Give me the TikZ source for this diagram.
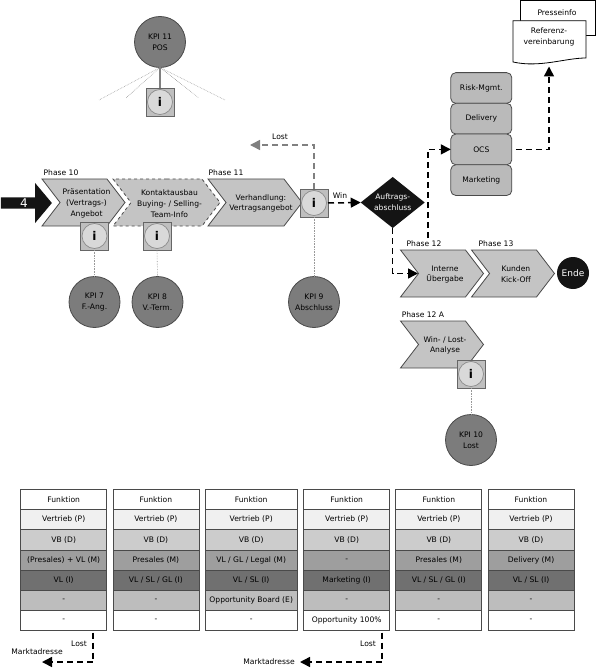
\documentclass[tikz,border=0pt]{standalone}
\usepackage{fontspec}
\setmainfont{DejaVu Sans}
\usetikzlibrary{arrows.meta,shapes.geometric,shapes.symbols,shapes.arrows}
\definecolor{chevgray}{HTML}{C4C4C4}
\definecolor{kpigray}{HTML}{7C7C7C}
\definecolor{linegray}{HTML}{4A4A4A}
\definecolor{blackish}{HTML}{141414}
\tikzset{
	every node/.style={font=\fontsize{7.6}{10.8}\selectfont,align=center,inner sep=0pt,outer sep=0pt},
	chev/.style={signal,signal from=west,signal to=east,signal pointer angle=105,draw=linegray,fill=chevgray,line width=0.8pt,minimum width=83pt,minimum height=47pt},
	ctext/.style={xshift=3pt,yshift=-1pt},
	kpi/.style={circle,draw=linegray,fill=kpigray,line width=0.8pt,minimum size=51pt},
	infobox/.style={rectangle,draw=black!60,fill=black!25,line width=0.8pt,minimum size=28pt},
	infocirc/.style={circle,draw=black!45,fill=black!15,line width=0.7pt,minimum size=25pt,font=\fontsize{12}{12}\bfseries\selectfont},
	stackbox/.style={rectangle,rounded corners=5pt,draw=linegray,fill=chevgray!95!black,line width=0.8pt,minimum width=61pt,minimum height=30.7pt},
	dasharrow/.style={line width=1.5pt,dash pattern=on 6pt off 4pt,-{Triangle[length=10pt,width=10pt]}},
	dotline/.style={gray!80,densely dotted,line width=0.6pt},
	cell/.style={rectangle,draw=linegray,line width=0.8pt,minimum height=20.2pt},
	rowa/.style={fill=white},
	rowb/.style={fill=black!6},
	rowc/.style={fill=black!20},
	rowd/.style={fill=black!38},
	rowe/.style={fill=black!56},
	rowf/.style={fill=black!26},
	rowg/.style={fill=white}
}
% info symbol: box with circle
\newcommand{\infonode}[2]{
	\node[infobox] (#1) at (#2) {};
	\node[infocirc] (#1c) at (#1) {i};
}
\begin{document}
\begin{tikzpicture}[x=1pt,y=-1pt]
	\useasboundingbox (0,0) rectangle (595,668);

	% documents
	\draw[line width=0.8pt,fill=white] (520,0) rectangle (595,35);
	\node (press) at (557,13) {Presseinfo};
	\draw[line width=0.8pt,fill=white] (513,20.7) -- (586,20.7) -- (586,58) .. controls (565,58) and (540,68) .. (513,62) -- cycle;
	\node (refer) at (549,37) {Referenz-\\vereinbarung};

	% stack
	\node[stackbox] (risk) at (481.3,88) {Risk-Mgmt.};
	\node[stackbox] (deliv) at (481.3,118.7) {Delivery};
	\node[stackbox] (ocs) at (481.3,149.4) {OCS};
	\node[stackbox] (mark) at (481.3,180.1) {Marketing};

	% phases
	\node (ph10) at (61,173) {Phase 10};
	\node (ph11) at (226,173) {Phase 11};
	\node (ph12) at (424,244) {Phase 12};
	\node (ph13) at (496,244) {Phase 13};
	\node (ph12a) at (423,315) {Phase 12 A};

	\node[chev,label={[ctext]center:{Präsentation\\(Vertrags-)\\Angebot}}] (praes) at (83.5,202.5) {};
	\node[chev,dashed,minimum width=107pt,label={[ctext]center:{Kontaktausbau\\Buying- / Selling-\\Team-Info}}] (kont) at (166.5,202.5) {};
	\node[chev,minimum width=94pt,label={[ctext,xshift=3pt]center:{Verhandlung:\\Vertragsangebot}}] (verh) at (255,202.5) {};
	\node[chev,label={[ctext]center:{Interne\\Übergabe}}] (intern) at (442,273.5) {};
	\node[chev,label={[ctext]center:{Kunden\\Kick-Off}}] (kunden) at (513,273.5) {};
	\node[chev,label={[ctext]center:{Win- / Lost-\\Analyse}}] (winlost) at (442,344.5) {};

	% start and end
	\node[single arrow,single arrow head indent=0pt,single arrow tip angle=100,single arrow head extend=11.5pt,minimum width=40pt,minimum height=51pt,fill=blackish,text=white,font=\fontsize{12}{12}\selectfont] (start) at (24,203) {4};
	\node[diamond,aspect=1.25,fill=blackish,text=white,minimum width=64pt,minimum height=51pt] (auftrag) at (392.7,202.5) {Auftrags-\\abschluss};
	\node[circle,fill=blackish,text=white,minimum size=32pt,font=\fontsize{9}{10}\selectfont] (ende) at (573,273) {Ende};

	% kpi circles
	\node[kpi] (kpi11) at (160,42) {KPI 11\\POS};
	\node[kpi] (kpi7) at (94.5,302) {KPI 7\\F.-Ang.};
	\node[kpi] (kpi8) at (157.5,302) {KPI 8\\V.-Term.};
	\node[kpi] (kpi9) at (314,302) {KPI 9\\Abschluss};
	\node[kpi] (kpi10) at (471,440) {KPI 10\\Lost};

	% dotted links
	\coordinate (fan1) at (99,100);
	\coordinate (fan2) at (126,98);
	\coordinate (fan3) at (199,98);
	\coordinate (fan4) at (225,100);
	\foreach \f in {fan1,fan2,fan3,fan4}
		\draw[dotline] (kpi11.south) -- (\f);
	\infonode{inf11}{160,102}
	\infonode{inf7}{94.5,236}
	\infonode{inf8}{157,236}
	\infonode{inf9}{314,203}
	\infonode{inf10}{471,374}
	\draw[gray,line width=1.5pt] (kpi11.south) -- (inf11.north);
	\draw[dotline] (inf7.south) -- (kpi7.north);
	\draw[dotline] (inf8.south) -- (kpi8.north);
	\draw[dotline] (inf9.south) -- (kpi9.north);
	\draw[dotline] (inf10.south) -- (kpi10.north);

	% process arrows
	\coordinate (lostend) at (250,145);
	\draw[dasharrow,gray] (inf9.north) |- (lostend);
	\node (lostlab) at (280,137) {Lost};
	\draw[dasharrow] (inf9.east) -- (auftrag.west);
	\node (winlab) at (340,196) {Win};
	\coordinate (internin) at (418,273.5);
	\draw[dasharrow] (auftrag.south) |- (internin);
	\coordinate (ocsfrom) at (428,238);
	\draw[dasharrow] (ocsfrom) |- (ocs.west);
	\coordinate (docin) at (549,66.5);
	\draw[dasharrow] ([xshift=4pt]ocs.east) -| (docin);

	% table
	\foreach \c/\x/\w/\d/\e/\f/\g in {
		fa/63.7/86/{(Presales) + VL (M)}/{VL (I)}/-/-,
		fb/155.9/86/{Presales (M)}/{VL / SL / GL (I)}/-/-,
		fc/251.2/92/{VL / GL / Legal (M)}/{VL / SL (I)}/{Opportunity Board (E)}/-,
		fd/346.7/86/-/{Marketing (I)}/-/{Opportunity 100\%},
		fe/438.8/86/{Presales (M)}/{VL / SL / GL (I)}/-/-,
		ff/531/86/{Delivery (M)}/{VL / SL (I)}/-/-}{
		\node[cell,rowa,minimum width=\w pt] (\c1) at (\x,499.4) {Funktion};
		\node[cell,rowb,minimum width=\w pt] (\c2) at (\x,519.6) {Vertrieb (P)};
		\node[cell,rowc,minimum width=\w pt] (\c3) at (\x,539.8) {VB (D)};
		\node[cell,rowd,minimum width=\w pt] (\c4) at (\x,560) {\d};
		\node[cell,rowe,minimum width=\w pt] (\c5) at (\x,580.2) {\e};
		\node[cell,rowf,minimum width=\w pt] (\c6) at (\x,600.4) {\f};
		\node[cell,rowg,minimum width=\w pt] (\c7) at (\x,620.6) {\g};
	}

	% lost arrows below the table
	\coordinate (marka) at (42,662);
	\coordinate (markb) at (300,662);
	\draw[dasharrow] ([xshift=29.5pt,yshift=-2pt]fa7.south) |- (marka);
	\draw[dasharrow] ([xshift=35.5pt,yshift=-2pt]fd7.south) |- (markb);
	\node (losta) at (79,644) {Lost};
	\node (lostb) at (368,644) {Lost};
	\node (mkta) at (37,652) {Marktadresse};
	\node (mktb) at (269,662) {Marktadresse};
\end{tikzpicture}
\end{document}
